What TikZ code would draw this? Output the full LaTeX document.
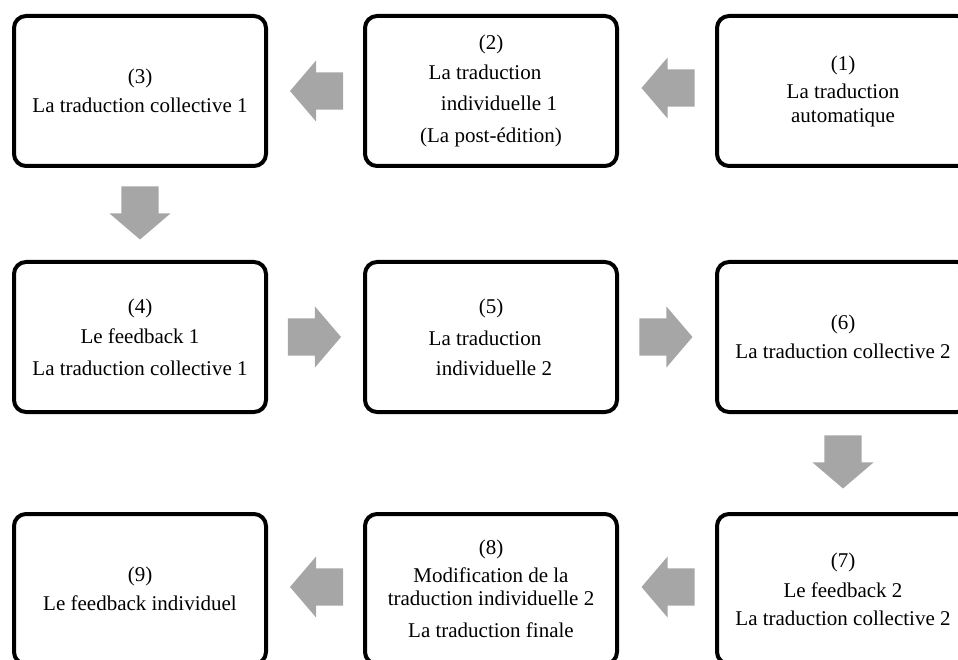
\documentclass[tikz,border=0pt]{standalone}
\usepackage{fontspec}
\setmainfont{Liberation Serif}
\usetikzlibrary{shapes.arrows, calc}
\definecolor{flechegris}{RGB}{166,166,166}

\begin{document}
\begin{tikzpicture}[x=1pt, y=-1pt,
  etape/.style={draw=black, line width=4pt, rounded corners=12pt,
    minimum width=252pt, minimum height=150pt, inner sep=0pt,
    align=center, font=\fontsize{21}{30}\selectfont},
  fleche/.style={single arrow, fill=flechegris, draw=none,
    inner xsep=0pt, inner ysep=18.5pt,
    minimum height=53pt, single arrow head extend=12pt,
    single arrow tip angle=99, single arrow head indent=0pt},
  flechegauche/.style={fleche, shape border rotate=180, xshift=9pt},
  flechedroite/.style={fleche, xshift=-9pt},
  flechebas/.style={fleche, inner xsep=18.5pt, inner ysep=0pt,
    shape border rotate=270, yshift=9pt}]
\useasboundingbox (0,0) rectangle (958,660);
\node[etape] (e1) at (843,91) {(1)\\[-2pt]La traduction\\[-6pt]automatique};
\node[etape] (e2) at (491,91) {(2)\\La traduction\kern12pt\\[1pt]\kern16pt individuelle 1\\[2pt](La post-édition)};
\node[etape] (e3) at (140,91) {(3)\\[-1pt]La traduction collective 1};
\node[etape] (e4) at (140,337) {(4)\\Le feedback 1\\[2pt]La traduction collective 1};
\node[etape] (e5) at (491,337) {(5)\\[2pt]La traduction\kern12pt\\\kern6pt individuelle 2};
\node[etape] (e6) at (843,337) {(6)\\[-1pt]La traduction collective 2};
\node[etape] (e7) at (843,589) {(7)\\Le feedback 2\\[-2pt]La traduction collective 2};
\node[etape] (e8) at (491,589) {(8)\\[-2pt]Modification de la\\[-7pt]traduction individuelle 2\\[2pt]La traduction finale};
\node[etape] (e9) at (140,589) {(9)\\[-1pt]Le feedback individuel};
\node[flechegauche, yshift=3pt] (f12) at ($(e1.west)!0.5!(e2.east)$) {};
\node[flechegauche] (f23) at ($(e2.west)!0.5!(e3.east)$) {};
\node[flechebas] (f34) at ($(e3.south)!0.5!(e4.north)$) {};
\node[flechedroite] (f45) at ($(e4.east)!0.5!(e5.west)$) {};
\node[flechedroite] (f56) at ($(e5.east)!0.5!(e6.west)$) {};
\node[flechebas] (f67) at ($(e6.south)!0.5!(e7.north)$) {};
\node[flechegauche, yshift=2pt] (f78) at ($(e7.west)!0.5!(e8.east)$) {};
\node[flechegauche, yshift=2pt] (f89) at ($(e8.west)!0.5!(e9.east)$) {};
\end{tikzpicture}
\end{document}
